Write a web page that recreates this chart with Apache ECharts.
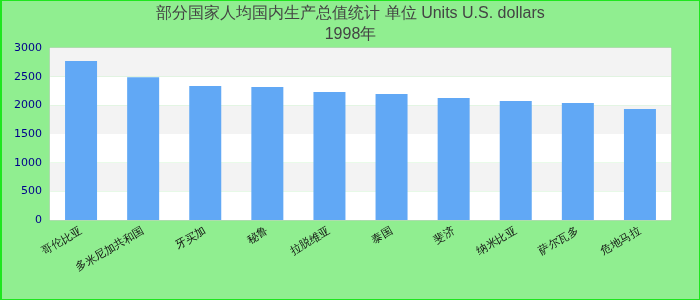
<!DOCTYPE html>
<html>
<head>
<meta charset="utf-8">
<script src="https://cdn.jsdelivr.net/npm/echarts@6/dist/echarts.min.js"></script>
<style>
html,body{margin:0;padding:0;background:#90ee90;}
#chart{width:700px;height:300px;box-sizing:border-box;border:1px solid #1ee61e;border-left-width:2px;}
</style>
</head>
<body>
<div id="chart"></div>
<script>
var titleLine1 = "部分国家人均国内生产总值统计 单位 Units U.S. dollars";
var titleLine2 = "1998年";
var categories = ["哥伦比亚","多米尼加共和国","牙买加","秘鲁","拉脱维亚","泰国","斐济","纳米比亚","萨尔瓦多","危地马拉"];
var values = [2775, 2492, 2337, 2320, 2233, 2198, 2128, 2076, 2041, 1936];
var yTicks = [0, 500, 1000, 1500, 2000, 2500, 3000];

var chart = echarts.init(document.getElementById('chart'));
chart.setOption({
  backgroundColor: '#90ee90',
  animation: false,
  title: {
    text: titleLine1 + "\n" + titleLine2,
    left: 'center',
    top: 2,
    padding: 0,
    textStyle: {fontSize: 16, fontWeight: 'normal', color: '#444', fontFamily: 'Liberation Sans, Arial, sans-serif', lineHeight: 21}
  },
  grid: {left: 48, right: 28, top: 47, bottom: 79, show: true, borderColor: '#ccc', borderWidth: 1, backgroundColor: 'transparent'},
  xAxis: {
    type: 'category',
    data: categories,
    axisLine: {show: false},
    axisTick: {show: false},
    axisLabel: {rotate: 30, fontSize: 11, color: '#111', interval: 0, margin: 10}
  },
  yAxis: {
    type: 'value',
    min: yTicks[0],
    max: yTicks[yTicks.length - 1],
    interval: 500,
    axisLine: {show: false},
    axisTick: {show: false},
    splitLine: {show: false},
    splitArea: {show: true, areaStyle: {color: ['#ffffff', '#f3f3f3']}},
    axisLabel: {fontSize: 11, color: '#00008b', fontFamily: 'DejaVu Sans, sans-serif', margin: 8,
      formatter: function (v) { return String(v); }}
  },
  series: [{
    type: 'bar',
    data: values,
    barWidth: 32,
    itemStyle: {color: '#61a8f5'}
  }]
});
</script>
</body>
</html>
